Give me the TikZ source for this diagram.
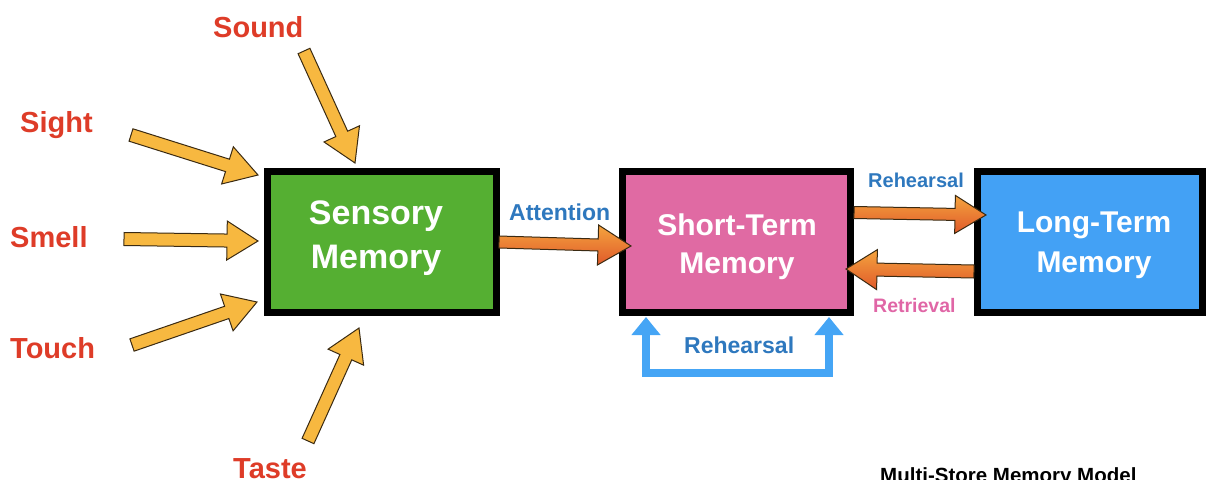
\documentclass[tikz,border=0pt]{standalone}
\usepackage{fontspec}
\setmainfont{Liberation Sans}
\usetikzlibrary{calc,arrows.meta}
\definecolor{sgreen}{HTML}{55AF32}
\definecolor{spink}{HTML}{E06AA3}
\definecolor{sblue}{HTML}{43A1F5}
\definecolor{sred}{HTML}{DE3C28}
\definecolor{tblue}{HTML}{2E78BE}
\definecolor{tpink}{HTML}{E066A6}
\definecolor{ublue}{HTML}{45A5F5}
\definecolor{ayellow}{HTML}{F7B840}
\definecolor{aoutline}{HTML}{3A2A12}
\definecolor{otop}{HTML}{F4A43E}
\definecolor{obot}{HTML}{E0592A}
\newcommand\blockarr[6]{% style, tail, tip, shaft half, head half, head length
  \coordinate (tmpC) at ($(#3)!#6!(#2)$);
  \path[#1] ($(#2)!#4!90:(#3)$) -- ($(tmpC)!#4!90:(#3)$) -- ($(tmpC)!#5!90:(#3)$)
    -- (#3) -- ($(tmpC)!#5!-90:(#3)$) -- ($(tmpC)!#4!-90:(#3)$)
    -- ($(#2)!#4!-90:(#3)$) -- cycle;
}
\tikzset{
  box/.style={draw=black, line width=7pt, inner sep=0pt},
  boxtxt/.style={text=white, font=\bfseries\fontsize{30}{36}\selectfont, anchor=base, inner sep=0pt},
  sense/.style={text=sred, font=\bfseries\fontsize{29}{34}\selectfont, anchor=base west, inner sep=0pt},
  elabel/.style={text=tblue, anchor=base west, inner sep=0pt},
  yarrow/.style={fill=ayellow, draw=aoutline, line width=1pt, line join=miter},
  oarrow/.style={top color=otop, bottom color=obot, draw=aoutline, line width=1pt, line join=miter},
  uarrow/.style={draw=ublue, line width=8pt, line join=miter,
    {Triangle[width=28pt,length=18pt]}-{Triangle[width=28pt,length=18pt]}},
}
\begin{document}
\begin{tikzpicture}[x=1pt,y=-1pt]
\useasboundingbox (0,0) rectangle (1206,479);
% boxes
\node[box, fill=sgreen, minimum width=229pt, minimum height=141pt] (sm) at (382,242) {};
\node[box, fill=spink, minimum width=228pt, minimum height=141pt] (stm) at (736.5,242) {};
\node[box, fill=sblue, minimum width=225pt, minimum height=141pt] (ltm) at (1090,242) {};
% box texts
\node[boxtxt, font=\bfseries\fontsize{34}{40}\selectfont] (sm1) at (376,224) {Sensory};
\node[boxtxt, font=\bfseries\fontsize{34}{40}\selectfont] (sm2) at (376,268) {Memory};
\node[boxtxt] (st1) at (737,235) {Short-Term};
\node[boxtxt] (st2) at (737,273) {Memory};
\node[boxtxt] (lt1) at (1094,232) {Long-Term};
\node[boxtxt] (lt2) at (1094,272) {Memory};
% senses
\node[sense] (sound) at (213,37) {Sound};
\node[sense] (sight) at (20,132) {Sight};
\node[sense] (smell) at (10,247) {Smell};
\node[sense] (touch) at (10,358) {Touch};
\node[sense] (taste) at (233,478) {Taste};
% sense arrow endpoints
\coordinate (soundT) at (304,51);  \coordinate (soundH) at (355,163);
\coordinate (sightT) at (131,135); \coordinate (sightH) at (258,175);
\coordinate (smellT) at (124,239); \coordinate (smellH) at (258,241);
\coordinate (touchT) at (132,345); \coordinate (touchH) at (257,302);
\coordinate (tasteT) at (308,441); \coordinate (tasteH) at (359,328);
\blockarr{yarrow}{soundT}{soundH}{6.5pt}{19.5pt}{32pt}
\blockarr{yarrow}{sightT}{sightH}{6.5pt}{19.5pt}{32pt}
\blockarr{yarrow}{smellT}{smellH}{6.5pt}{19.5pt}{31pt}
\blockarr{yarrow}{touchT}{touchH}{6.5pt}{19.5pt}{32pt}
\blockarr{yarrow}{tasteT}{tasteH}{6.5pt}{19.5pt}{32pt}
% orange arrows
\coordinate (attT) at (499,242);  \coordinate (attH) at (631,246);
\coordinate (rehT) at (854,212.5); \coordinate (rehH) at (986,215);
\coordinate (retT) at (974,271.5); \coordinate (retH) at (846,269);
\blockarr{oarrow}{attT}{attH}{6pt}{20pt}{33pt}
\blockarr{oarrow}{rehT}{rehH}{6pt}{19pt}{31pt}
\blockarr{oarrow}{retT}{retH}{6.5pt}{20pt}{31pt}
% rehearsal loop
\coordinate (rl) at (646,317);
\coordinate (rr) at (829,317);
\draw[uarrow] (rl) -- ++(0,56) -| (rr);
% labels
\node[elabel, font=\bfseries\fontsize{23}{27}\selectfont] (att) at (509,220) {Attention};
\node[elabel, font=\bfseries\fontsize{20}{24}\selectfont] (reh1) at (868,187) {Rehearsal};
\node[elabel, text=tpink, font=\bfseries\fontsize{19.5}{23}\selectfont] (ret) at (873,312) {Retrieval};
\node[elabel, font=\bfseries\fontsize{23}{27}\selectfont] (reh2) at (684,353) {Rehearsal};
\node[anchor=base west, inner sep=0pt, font=\bfseries\fontsize{20.5}{24}\selectfont] (title) at (880,482) {Multi-Store Memory Model};
\end{tikzpicture}
\end{document}
